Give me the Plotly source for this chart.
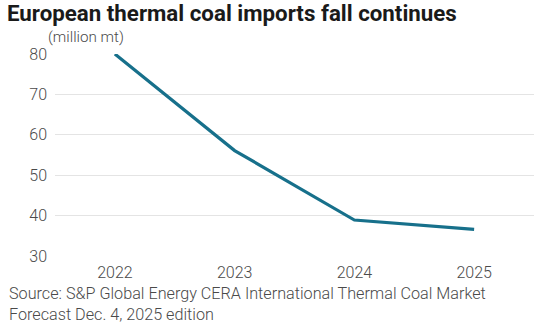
import plotly.graph_objects as go

years = ["2022", "2023", "2024", "2025"]
imports = [80.0, 56.1, 38.9, 36.6]
y_ticks = [30, 40, 50, 60, 70, 80]

W, H = 554, 334
L, R, T, B = 55, 20, 54, 78
pw = W - L - R
ph = H - T - B

FONT = "Roboto"
GREY = "#4a4a4a"

fig = go.Figure()
fig.add_trace(go.Scatter(
    x=years, y=imports, mode="lines",
    line=dict(color="#17708b", width=3.2),
    hoverinfo="skip", cliponaxis=False,
))

def px_x(p):
    return (p - L) / pw

def px_y(p):
    return (H - B - p) / ph

fig.update_layout(
    width=W, height=H,
    margin=dict(l=L, r=R, t=T, b=B),
    paper_bgcolor="white", plot_bgcolor="white",
    showlegend=False,
    font=dict(family=FONT, color=GREY),
    title=dict(
        text="<b>European thermal coal imports fall continues</b>",
        xref="container", yref="container",
        x=7 / W, xanchor="left", y=1 - 5 / H, yanchor="top",
        font=dict(family=FONT, size=22.3, color="#1a1a1a"),
    ),
    xaxis=dict(
        type="category", range=[-0.5, 3.5],
        showgrid=False, zeroline=False, showline=False,
        ticks="", tickfont=dict(family=FONT, size=16, color=GREY, weight=300),
        ticklabelstandoff=5,
    ),
    yaxis=dict(
        range=[30, 80], tickvals=y_ticks,
        showgrid=True, gridcolor="#e4e4e4", gridwidth=1,
        zeroline=False, showline=False, ticks="",
        tickfont=dict(family=FONT, size=16, color=GREY, weight=300),
        ticklabelstandoff=7,
    ),
    annotations=[
        dict(text="(million mt)", xref="paper", yref="paper",
             x=px_x(46), y=px_y(48), xanchor="left", yanchor="bottom",
             showarrow=False, font=dict(family=FONT, size=15.2, color=GREY, weight=300)),
        dict(text="Source: S&P Global Energy CERA International Thermal Coal Market<br>Forecast Dec. 4, 2025 edition",
             xref="paper", yref="paper", align="left",
             x=px_x(7), y=px_y(282), xanchor="left", yanchor="top",
             showarrow=False, font=dict(family=FONT, size=16.2, color=GREY, weight=300)),
    ],
)

fig.write_html("out.html")
